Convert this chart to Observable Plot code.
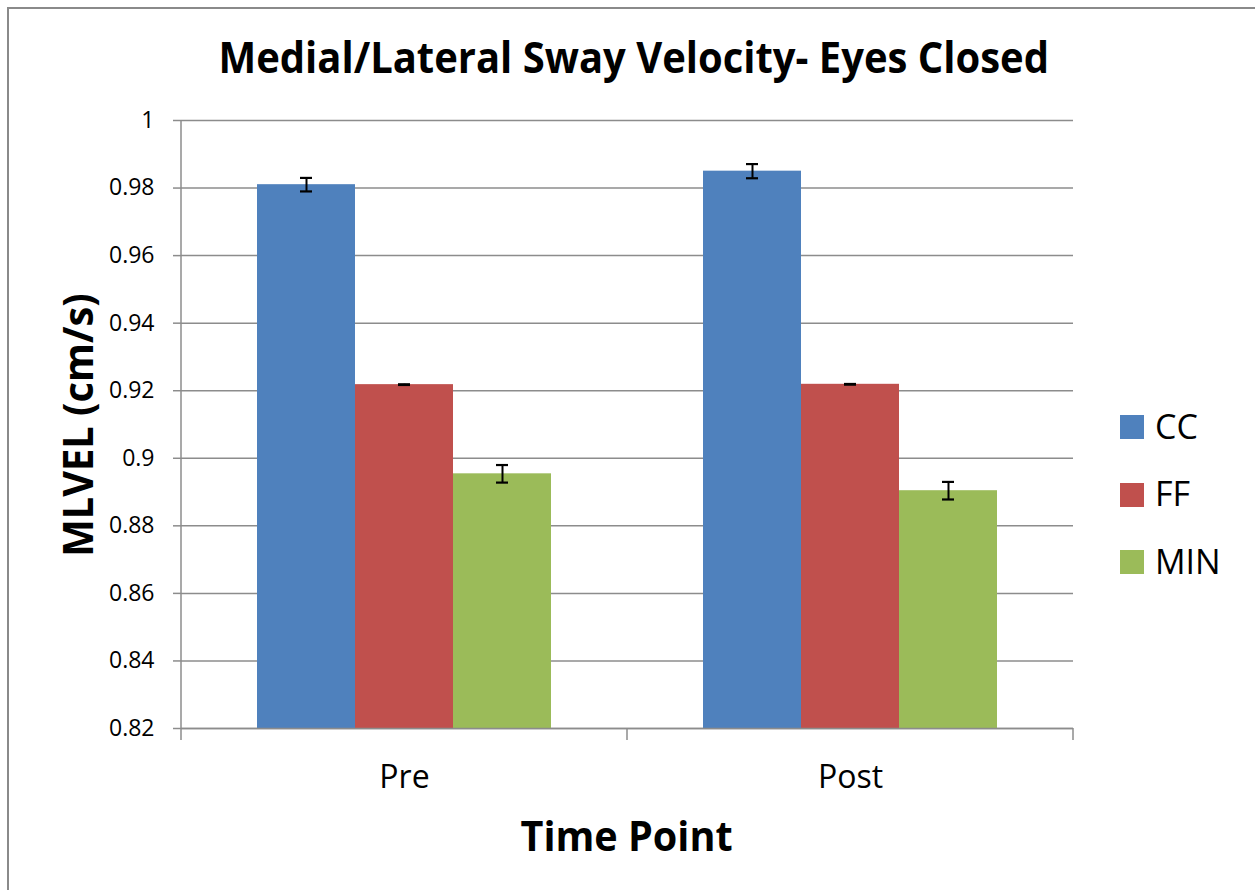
<!DOCTYPE html>
<html><head><meta charset="utf-8">
<script src="https://cdn.jsdelivr.net/npm/d3@7"></script>
<script src="https://cdn.jsdelivr.net/npm/@observablehq/plot@0.6"></script>
<style>
html,body{margin:0;padding:0;background:#fff;overflow:hidden;width:1255px;height:890px}
#root{position:relative;width:1255px;height:890px;overflow:hidden;font-family:"Open Sans",sans-serif;background:#fff}
#border{position:absolute;left:7px;top:7px;width:1300px;height:1000px;border:2px solid #8a8a8a;box-sizing:border-box}
#chart{position:absolute;left:0;top:100px}
.t{position:absolute;white-space:nowrap;line-height:1;color:#000;transform-origin:50% 50%;font-family:"Open Sans",sans-serif}
.sw{position:absolute;width:24px;height:24px}
</style></head>
<body><div id="root"><div id="border"></div><div id="chart"></div></div>
<script>
const title = "Medial/Lateral Sway Velocity- Eyes Closed";
const xTitle = "Time Point";
const yTitle = "MLVEL (cm/s)";
const timePoints = ["Pre", "Post"];
const series = ["CC", "FF", "MIN"];
const colors = ["#4F81BD", "#C0504D", "#9BBB59"];
const ccValues = [0.981, 0.985];
const ffValues = [0.9218, 0.9219];
const minValues = [0.8954, 0.8904];
const ccErrors = [0.0020, 0.0021];
const ffErrors = [0.0001, 0.0001];
const minErrors = [0.0026, 0.0026];
const yTicks = [0.82, 0.84, 0.86, 0.88, 0.90, 0.92, 0.94, 0.96, 0.98, 1.00];
const yTickLabels = ["0.82", "0.84", "0.86", "0.88", "0.9", "0.92", "0.94", "0.96", "0.98", "1"];

const valuesBySeries = [ccValues, ffValues, minValues];
const errorsBySeries = [ccErrors, ffErrors, minErrors];
const rows = timePoints.flatMap((t, i) => series.map((s, j) => ({
  time: t, series: s, value: valuesBySeries[j][i], err: errorsBySeries[j][i]
})));

const gray = "#8c8c8c";
const plot = Plot.plot({
  width: 1100, height: 700,
  marginLeft: 180, marginRight: 27, marginTop: 20, marginBottom: 72,
  style: {fontFamily: "Open Sans", fontSize: "23px", color: "#000", background: "transparent", overflow: "visible"},
  fx: {domain: timePoints, padding: 0, label: null},
  x: {domain: series, paddingInner: 0, paddingOuter: 0.755, axis: null},
  y: {domain: [0.82, 1], label: null},
  color: {domain: series, range: colors},
  marks: [
    Plot.gridY(yTicks, {stroke: gray, strokeOpacity: 1, strokeWidth: 1.5}),
    Plot.axisY(yTicks, {tickSize: 8, tickPadding: 19, stroke: gray, strokeWidth: 1.5, fill: "#000", fontSize: 23,
      tickFormat: d => yTickLabels[yTicks.indexOf(d)], label: null}),
    Plot.axisFx({anchor: "bottom", tickSize: 0, tickPadding: 37, fontSize: 32, label: null}),
    Plot.barY(rows, {fx: "time", x: "series", y: "value", fill: "series", clip: true}),
    Plot.ruleY([0.82], {stroke: gray, strokeWidth: 1.5}),
    Plot.ruleX(rows, {fx: "time", x: "series", y1: d => d.value - d.err, y2: d => d.value + d.err, stroke: "#000", strokeWidth: 2}),
    Plot.tickY(rows, {fx: "time", x: "series", y: d => d.value + d.err, stroke: "#000", strokeWidth: 2.2, insetLeft: 43, insetRight: 43}),
    Plot.tickY(rows, {fx: "time", x: "series", y: d => d.value - d.err, stroke: "#000", strokeWidth: 2.2, insetLeft: 43, insetRight: 43})
  ]
});
document.getElementById("chart").appendChild(plot);

// axis line and category boundary ticks from the plot's scales
const fxS = plot.scale("fx"), yS = plot.scale("y");
const svg = d3.select(plot);
const y0 = yS.apply(0.82), yTop = yS.apply(1);
const left = fxS.apply(timePoints[0]);
const right = fxS.apply(timePoints[timePoints.length - 1]) + fxS.bandwidth;
svg.append("line").attr("x1", left).attr("x2", left).attr("y1", yTop).attr("y2", y0)
  .attr("stroke", gray).attr("stroke-width", 1.5);
const bounds = [left, ...timePoints.slice(1).map(t => fxS.apply(t)), right];
for (const bx of bounds) {
  svg.append("line").attr("x1", bx).attr("x2", bx).attr("y1", y0).attr("y2", y0 + 12)
    .attr("stroke", gray).attr("stroke-width", 1.5);
}

const root = document.getElementById("root");
function place(text, o) {
  const s = document.createElement("span");
  s.className = "t";
  s.textContent = text;
  s.style.fontSize = o.size + "px";
  s.style.fontWeight = o.weight || 400;
  root.appendChild(s);
  const w = s.offsetWidth, h = s.offsetHeight;
  const k = o.width ? o.width / w : 1;
  if (o.rotate) {
    s.style.left = (o.cx - w / 2) + "px";
    s.style.top = (o.cy - h / 2) + "px";
    s.style.transform = `rotate(-90deg) scaleX(${k})`;
  } else if (o.cx != null) {
    s.style.left = (o.cx - w / 2) + "px";
    s.style.top = (o.baseline - 0.888 * o.size) + "px";
    s.style.transform = `scaleX(${k})`;
  } else {
    s.style.left = o.x + "px";
    s.style.top = (o.baseline - 0.888 * o.size) + "px";
  }
}
function drawTexts() {
  place(title, {cx: 633, baseline: 73.3, size: 43, weight: 700, width: 830});
  place(xTitle, {cx: 626, baseline: 851.7, size: 42, weight: 700, width: 212});
  place(yTitle, {cx: 77, cy: 424.5, size: 42, weight: 700, width: 263, rotate: true});
  const baselines = [439, 506.5, 574];
  series.forEach((s, i) => {
    const sw = document.createElement("div");
    sw.className = "sw";
    sw.style.left = "1120px";
    sw.style.top = (baselines[i] - 24) + "px";
    sw.style.background = colors[i];
    root.appendChild(sw);
    place(s, {x: 1155, baseline: baselines[i], size: 34});
  });
}
if (document.fonts && document.fonts.ready) document.fonts.ready.then(drawTexts); else drawTexts();
</script>
</body></html>
